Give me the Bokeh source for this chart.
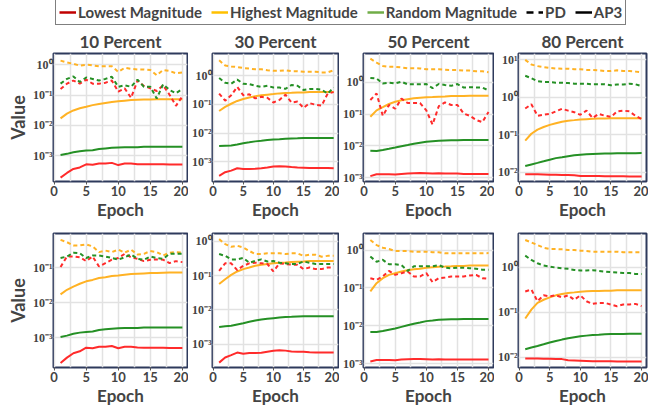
from bokeh.plotting import figure
from bokeh.layouts import column, row
from bokeh.models import (Range1d, FixedTicker, SingleIntervalTicker, CustomJSTickFormatter,
                          Legend, LegendItem)
from bokeh.embed import file_html
from bokeh.resources import INLINE

EPOCHS = list(range(1, 21))
TITLES = ["10 Percent", "30 Percent", "50 Percent", "80 Percent"]
SERIES = ["Lowest Magnitude", "Highest Magnitude", "Random Magnitude"]
METHODS = ["PD", "AP3"]

# ---------------- Row 1 ----------------
R1_10_LOW_PD = [0.158, 0.237, 0.30, 0.237, 0.32, 0.237, 0.237, 0.255, 0.30, 0.13, 0.166, 0.081, 0.30, 0.20, 0.166, 0.136, 0.21, 0.102, 0.044, 0.091]
R1_10_HIGH_PD = [1.36, 1.18, 1.07, 0.93, 1.0, 0.95, 0.89, 0.89, 0.89, 0.58, 0.79, 0.73, 0.70, 0.70, 0.67, 0.45, 0.67, 0.62, 0.52, 0.55]
R1_10_RAND_PD = [0.237, 0.34, 0.41, 0.27, 0.38, 0.34, 0.30, 0.34, 0.40, 0.187, 0.21, 0.187, 0.32, 0.187, 0.187, 0.077, 0.226, 0.147, 0.115, 0.158]
R1_10_LOW_AP3 = [0.00019, 0.00027, 0.000365, 0.00041, 0.00052, 0.0005, 0.00055, 0.00055, 0.00058, 0.00049, 0.00055, 0.00055, 0.00052, 0.00052, 0.00052, 0.00052, 0.00052, 0.00051, 0.00051, 0.00051]
R1_10_HIGH_AP3 = [0.017, 0.0243, 0.031, 0.0365, 0.041, 0.0465, 0.051, 0.055, 0.059, 0.062, 0.065, 0.068, 0.070, 0.0715, 0.0715, 0.073, 0.073, 0.073, 0.073, 0.073]
R1_10_RAND_AP3 = [0.00105, 0.00115, 0.0013, 0.0014, 0.00147, 0.0015, 0.00166, 0.00174, 0.00182, 0.00187, 0.0019, 0.0019, 0.0019, 0.00196, 0.00196, 0.00196, 0.00196, 0.00196, 0.00196, 0.00196]

R1_30_LOW_PD = [0.24, 0.136, 0.21, 0.41, 0.21, 0.226, 0.163, 0.185, 0.171, 0.117, 0.144, 0.22, 0.117, 0.126, 0.076, 0.111, 0.098, 0.091, 0.24, 0.27]
R1_30_HIGH_PD = [3.5, 2.3, 2.13, 2.03, 1.88, 1.79, 1.70, 1.70, 1.57, 1.50, 1.50, 1.57, 1.46, 1.46, 1.39, 1.39, 1.39, 1.32, 1.32, 1.57]
R1_30_RAND_PD = [0.84, 0.57, 0.53, 0.74, 0.53, 0.51, 0.45, 0.41, 0.45, 0.39, 0.39, 0.35, 0.48, 0.45, 0.32, 0.35, 0.35, 0.33, 0.24, 0.39]
R1_30_LOW_AP3 = [0.00032, 0.00043, 0.00049, 0.00059, 0.00056, 0.00056, 0.00057, 0.00059, 0.00063, 0.00068, 0.0007, 0.00068, 0.00065, 0.00063, 0.00062, 0.0006, 0.0006, 0.0006, 0.0006, 0.00059]
R1_30_HIGH_AP3 = [0.059, 0.082, 0.106, 0.133, 0.155, 0.175, 0.194, 0.21, 0.22, 0.23, 0.244, 0.25, 0.256, 0.263, 0.263, 0.27, 0.27, 0.27, 0.27, 0.27]
R1_30_RAND_AP3 = [0.00352, 0.00361, 0.0037, 0.004, 0.00442, 0.00476, 0.00514, 0.0054, 0.0057, 0.006, 0.0061, 0.0063, 0.00645, 0.0066, 0.0068, 0.0068, 0.0068, 0.0068, 0.0068, 0.0068]

R1_50_LOW_PD = [0.28, 0.45, 0.089, 0.195, 0.148, 0.31, 0.224, 0.224, 0.224, 0.132, 0.047, 0.178, 0.234, 0.195, 0.195, 0.105, 0.089, 0.066, 0.056, 0.117]
R1_50_HIGH_PD = [5.6, 4.2, 3.3, 3.1, 3.1, 2.95, 2.8, 2.8, 2.75, 2.6, 2.6, 2.6, 2.5, 2.45, 2.45, 2.35, 2.35, 2.25, 2.25, 2.1]
R1_50_RAND_PD = [1.38, 1.32, 0.93, 0.98, 0.93, 1.05, 0.87, 0.87, 0.87, 0.89, 0.66, 0.89, 0.83, 0.78, 0.89, 0.69, 0.71, 0.69, 0.69, 0.56]
R1_50_LOW_AP3 = [0.00112, 0.00129, 0.00129, 0.00129, 0.00126, 0.00132, 0.00135, 0.00138, 0.00141, 0.00138, 0.00135, 0.00138, 0.00135, 0.00135, 0.00135, 0.00132, 0.00132, 0.00132, 0.00132, 0.00132]
R1_50_HIGH_AP3 = [0.083, 0.132, 0.166, 0.209, 0.245, 0.275, 0.295, 0.316, 0.33, 0.34, 0.347, 0.355, 0.363, 0.372, 0.372, 0.372, 0.38, 0.38, 0.38, 0.38]
R1_50_RAND_AP3 = [0.0071, 0.0069, 0.0074, 0.0081, 0.0089, 0.0098, 0.0107, 0.0117, 0.0126, 0.0135, 0.0141, 0.0145, 0.0148, 0.0151, 0.0151, 0.0155, 0.0155, 0.0155, 0.0155, 0.0155]

R1_80_LOW_PD = [0.50, 0.65, 0.32, 0.34, 0.36, 0.42, 0.49, 0.44, 0.40, 0.34, 0.44, 0.28, 0.36, 0.32, 0.30, 0.42, 0.44, 0.42, 0.32, 0.26]
R1_80_HIGH_PD = [10.0, 7.5, 6.8, 6.4, 6.1, 5.9, 5.8, 5.8, 5.6, 5.6, 5.4, 5.4, 5.25, 5.05, 5.05, 5.25, 5.05, 5.05, 4.85, 4.65]
R1_80_RAND_PD = [3.77, 3.22, 2.70, 2.55, 2.55, 2.45, 2.45, 2.40, 2.31, 2.31, 2.31, 2.22, 2.22, 2.22, 2.10, 2.18, 2.18, 2.31, 2.22, 1.98]
R1_80_LOW_AP3 = [0.0087, 0.0087, 0.0087, 0.0086, 0.0085, 0.0085, 0.0084, 0.0083, 0.0082, 0.0079, 0.0078, 0.0078, 0.0078, 0.0077, 0.0077, 0.0077, 0.0077, 0.0076, 0.0076, 0.0076]
R1_80_HIGH_AP3 = [0.069, 0.106, 0.137, 0.16, 0.183, 0.202, 0.222, 0.236, 0.245, 0.255, 0.26, 0.265, 0.27, 0.27, 0.276, 0.276, 0.276, 0.276, 0.276, 0.276]
R1_80_RAND_AP3 = [0.0145, 0.016, 0.0176, 0.0194, 0.0214, 0.0236, 0.025, 0.0265, 0.0281, 0.0292, 0.0298, 0.0304, 0.031, 0.0316, 0.0316, 0.032, 0.032, 0.032, 0.032, 0.0323]

# ---------------- Row 2 ----------------
R2_10_LOW_PD = [0.105, 0.21, 0.21, 0.20, 0.155, 0.21, 0.109, 0.136, 0.17, 0.19, 0.25, 0.20, 0.18, 0.155, 0.17, 0.173, 0.17, 0.136, 0.155, 0.145]
R2_10_HIGH_PD = [0.63, 0.54, 0.435, 0.435, 0.465, 0.41, 0.28, 0.31, 0.28, 0.33, 0.27, 0.33, 0.24, 0.25, 0.30, 0.28, 0.225, 0.27, 0.28, 0.27]
R2_10_RAND_PD = [0.19, 0.21, 0.27, 0.26, 0.19, 0.225, 0.225, 0.21, 0.19, 0.17, 0.20, 0.24, 0.18, 0.17, 0.21, 0.19, 0.18, 0.25, 0.25, 0.25]
R2_10_LOW_AP3 = [0.00019, 0.00027, 0.00036, 0.00041, 0.00052, 0.0005, 0.00055, 0.00055, 0.00058, 0.0005, 0.00055, 0.00055, 0.00053, 0.00052, 0.00052, 0.00052, 0.00052, 0.00051, 0.00051, 0.00051]
R2_10_HIGH_AP3 = [0.0174, 0.0235, 0.029, 0.035, 0.041, 0.045, 0.051, 0.054, 0.058, 0.060, 0.063, 0.066, 0.0675, 0.069, 0.0705, 0.071, 0.072, 0.073, 0.073, 0.0735]
R2_10_RAND_AP3 = [0.00105, 0.00115, 0.0013, 0.0014, 0.00147, 0.0015, 0.00166, 0.00174, 0.00182, 0.00187, 0.0019, 0.0019, 0.0019, 0.00196, 0.00196, 0.00196, 0.00196, 0.00196, 0.00196, 0.00196]

R2_30_LOW_PD = [0.139, 0.23, 0.23, 0.146, 0.195, 0.23, 0.24, 0.23, 0.22, 0.133, 0.23, 0.22, 0.21, 0.21, 0.156, 0.174, 0.156, 0.156, 0.174, 0.174]
R2_30_HIGH_PD = [1.17, 0.84, 0.70, 0.75, 0.67, 0.53, 0.43, 0.43, 0.45, 0.45, 0.45, 0.43, 0.45, 0.45, 0.38, 0.41, 0.41, 0.36, 0.38, 0.38]
R2_30_RAND_PD = [0.43, 0.38, 0.30, 0.30, 0.33, 0.24, 0.27, 0.30, 0.26, 0.27, 0.24, 0.23, 0.22, 0.22, 0.26, 0.24, 0.22, 0.22, 0.22, 0.22]
R2_30_LOW_AP3 = [0.00029, 0.00041, 0.00048, 0.00057, 0.00053, 0.00055, 0.00055, 0.00056, 0.0006, 0.00064, 0.00067, 0.00065, 0.00061, 0.0006, 0.0006, 0.00058, 0.00057, 0.00057, 0.00057, 0.00057]
R2_30_HIGH_AP3 = [0.057, 0.079, 0.106, 0.133, 0.156, 0.174, 0.195, 0.21, 0.22, 0.23, 0.24, 0.244, 0.25, 0.255, 0.26, 0.267, 0.267, 0.27, 0.27, 0.27]
R2_30_RAND_AP3 = [0.0032, 0.00336, 0.00344, 0.00377, 0.0041, 0.0045, 0.0049, 0.00526, 0.0055, 0.00575, 0.006, 0.0062, 0.0063, 0.00645, 0.0066, 0.0066, 0.0066, 0.0066, 0.0066, 0.0066]

R2_50_LOW_PD = [0.18, 0.163, 0.20, 0.28, 0.22, 0.244, 0.27, 0.20, 0.20, 0.244, 0.142, 0.18, 0.188, 0.20, 0.20, 0.20, 0.212, 0.22, 0.18, 0.173]
R2_50_HIGH_PD = [1.83, 1.35, 1.15, 1.06, 0.94, 0.94, 0.94, 0.90, 0.90, 0.90, 0.87, 0.87, 0.82, 0.82, 0.82, 0.82, 0.82, 0.82, 0.82, 0.83]
R2_50_RAND_PD = [0.67, 0.49, 0.55, 0.42, 0.42, 0.40, 0.28, 0.37, 0.37, 0.37, 0.37, 0.40, 0.34, 0.33, 0.34, 0.34, 0.33, 0.32, 0.30, 0.30]
R2_50_LOW_AP3 = [0.00113, 0.00124, 0.00124, 0.00124, 0.00122, 0.00127, 0.0013, 0.00132, 0.00132, 0.0013, 0.00127, 0.0013, 0.00127, 0.00127, 0.00127, 0.00127, 0.00127, 0.00127, 0.00127, 0.00127]
R2_50_HIGH_AP3 = [0.081, 0.133, 0.18, 0.22, 0.244, 0.27, 0.29, 0.31, 0.32, 0.34, 0.35, 0.36, 0.365, 0.372, 0.38, 0.38, 0.39, 0.39, 0.39, 0.39]
R2_50_RAND_AP3 = [0.0068, 0.0068, 0.0072, 0.0078, 0.0084, 0.0093, 0.0103, 0.0112, 0.0121, 0.0132, 0.0137, 0.0143, 0.0146, 0.0148, 0.0148, 0.0151, 0.0151, 0.0151, 0.0151, 0.0151]

R2_80_LOW_PD = [0.29, 0.32, 0.176, 0.238, 0.226, 0.238, 0.215, 0.238, 0.19, 0.238, 0.176, 0.154, 0.162, 0.162, 0.149, 0.137, 0.149, 0.149, 0.154, 0.137]
R2_80_HIGH_PD = [4.0, 3.54, 3.1, 2.7, 2.53, 2.53, 2.49, 2.40, 2.40, 2.32, 2.29, 2.21, 2.21, 2.21, 2.21, 2.21, 2.14, 2.14, 2.14, 2.14]
R2_80_RAND_PD = [1.80, 1.45, 1.22, 1.09, 1.035, 0.98, 0.95, 0.92, 0.87, 0.845, 0.845, 0.86, 0.83, 0.80, 0.78, 0.76, 0.74, 0.74, 0.71, 0.71]
R2_80_LOW_AP3 = [0.0095, 0.0095, 0.0095, 0.0094, 0.0094, 0.0093, 0.0092, 0.0087, 0.0086, 0.0085, 0.0084, 0.0083, 0.0083, 0.0083, 0.0083, 0.0082, 0.0082, 0.0082, 0.0082, 0.0082]
R2_80_HIGH_AP3 = [0.073, 0.115, 0.162, 0.19, 0.215, 0.238, 0.255, 0.268, 0.277, 0.287, 0.292, 0.297, 0.297, 0.30, 0.30, 0.307, 0.307, 0.307, 0.307, 0.307]
R2_80_RAND_AP3 = [0.0152, 0.0166, 0.018, 0.0196, 0.0214, 0.0232, 0.0249, 0.0266, 0.028, 0.0294, 0.0305, 0.0315, 0.032, 0.0326, 0.0331, 0.0331, 0.0331, 0.0336, 0.0336, 0.0336]

# axis limits (log) per panel
R1_Y_LIMITS = [(1.41e-4, 2.34), (2.04e-4, 6.03), (7.6e-4, 8.13), (5.6e-3, 14.8)]
R2_Y_LIMITS = [(1.41e-4, 0.955), (2.09e-4, 1.71), (7.85e-4, 2.73), (6.0e-3, 5.58)]
R1_Y_TICKS = [[1e-3, 1e-2, 1e-1, 1], [1e-3, 1e-2, 1e-1, 1], [1e-3, 1e-2, 1e-1, 1], [1e-2, 1e-1, 1, 10]]
R2_Y_TICKS = [[1e-3, 1e-2, 1e-1], [1e-3, 1e-2, 1e-1, 1], [1e-3, 1e-2, 1e-1, 1], [1e-2, 1e-1, 1]]
X_TICKS = [0, 5, 10, 15, 20]

ROW1 = [
    [(R1_10_LOW_PD, R1_10_HIGH_PD, R1_10_RAND_PD), (R1_10_LOW_AP3, R1_10_HIGH_AP3, R1_10_RAND_AP3)],
    [(R1_30_LOW_PD, R1_30_HIGH_PD, R1_30_RAND_PD), (R1_30_LOW_AP3, R1_30_HIGH_AP3, R1_30_RAND_AP3)],
    [(R1_50_LOW_PD, R1_50_HIGH_PD, R1_50_RAND_PD), (R1_50_LOW_AP3, R1_50_HIGH_AP3, R1_50_RAND_AP3)],
    [(R1_80_LOW_PD, R1_80_HIGH_PD, R1_80_RAND_PD), (R1_80_LOW_AP3, R1_80_HIGH_AP3, R1_80_RAND_AP3)],
]
ROW2 = [
    [(R2_10_LOW_PD, R2_10_HIGH_PD, R2_10_RAND_PD), (R2_10_LOW_AP3, R2_10_HIGH_AP3, R2_10_RAND_AP3)],
    [(R2_30_LOW_PD, R2_30_HIGH_PD, R2_30_RAND_PD), (R2_30_LOW_AP3, R2_30_HIGH_AP3, R2_30_RAND_AP3)],
    [(R2_50_LOW_PD, R2_50_HIGH_PD, R2_50_RAND_PD), (R2_50_LOW_AP3, R2_50_HIGH_AP3, R2_50_RAND_AP3)],
    [(R2_80_LOW_PD, R2_80_HIGH_PD, R2_80_RAND_PD), (R2_80_LOW_AP3, R2_80_HIGH_AP3, R2_80_RAND_AP3)],
]

# ---------------- styling ----------------
LINE_COLORS = ["#FF2B2B", "#FFB224", "#259025"]
LEGEND_COLORS = ["#C00000", "#FFC000", "#70AD47"]
FRAME_COLOR = "#2E3A5C"
GRID_COLOR = "#E2E2E2"
SANS = "Lato"
SERIF = "Liberation Serif"

COL_W = [188, 151, 155, 154]
COL_LEFT = [53, 20, 20, 20]
COL_RIGHT = [1, 1, 1, 2]

SUP_JS = """
const sup = {"-": "\u207b", "0": "\u2070", "1": "\u00b9", "2": "\u00b2", "3": "\u00b3",
             "4": "\u2074", "5": "\u2075", "6": "\u2076", "7": "\u2077", "8": "\u2078", "9": "\u2079"};
const e = Math.round(Math.log10(tick));
return "10" + String(e).split("").map(c => sup[c]).join("");
"""


def make_panel(ci, data, ylim, yticks, title, height, top, bottom):
    p = figure(width=COL_W[ci], height=height, y_axis_type="log",
               x_range=Range1d(-0.1, 20.8), y_range=Range1d(ylim[0], ylim[1]),
               output_backend="svg", toolbar_location=None,
               min_border_left=COL_LEFT[ci], min_border_right=COL_RIGHT[ci],
               min_border_top=top, min_border_bottom=bottom)
    if title:
        p.title.text = title
        p.title.align = "center"
        p.title.text_font = SANS
        p.title.text_font_size = "17px"
        p.title.text_font_style = "bold"
        p.title.standoff = 4
        p.title.offset = 0
    p.outline_line_color = FRAME_COLOR
    p.outline_line_width = 2
    p.background_fill_color = "white"
    p.border_fill_color = "white"

    p.xaxis.ticker = FixedTicker(ticks=X_TICKS)
    p.xgrid.ticker = SingleIntervalTicker(interval=2.5)
    p.xgrid.grid_line_color = GRID_COLOR
    p.xgrid.grid_line_width = 1.5
    p.ygrid.ticker = FixedTicker(ticks=yticks)
    p.ygrid.grid_line_color = GRID_COLOR
    p.ygrid.grid_line_width = 1.5

    p.xaxis.axis_label = "Epoch"
    p.xaxis.axis_label_text_font = SANS
    p.xaxis.axis_label_text_font_size = "17px"
    p.xaxis.axis_label_text_font_style = "bold"
    p.xaxis.axis_label_standoff = 0
    p.xaxis.major_label_text_font = SANS
    p.xaxis.major_label_text_font_size = "13px"
    p.xaxis.major_label_text_font_style = "bold"
    p.xaxis.major_label_standoff = 1
    p.xaxis.axis_line_color = None
    p.xaxis.major_tick_line_color = "#555555"
    p.xaxis.major_tick_out = 3
    p.xaxis.major_tick_in = 0
    p.xaxis.minor_tick_line_color = None

    p.yaxis.ticker = FixedTicker(ticks=yticks)
    p.yaxis.formatter = CustomJSTickFormatter(code=SUP_JS)
    p.yaxis.major_label_text_font = SERIF
    p.yaxis.major_label_text_font_size = "12px"
    p.yaxis.major_label_text_font_style = "bold"
    p.yaxis.major_label_standoff = 1
    p.yaxis.axis_line_color = None
    p.yaxis.major_tick_line_color = None
    p.yaxis.major_tick_out = 0
    p.yaxis.major_tick_in = 0
    p.yaxis.minor_tick_line_color = None
    if ci == 0:
        p.yaxis.axis_label = "Value"
        p.yaxis.axis_label_text_font = SANS
        p.yaxis.axis_label_text_font_size = "18px"
        p.yaxis.axis_label_text_font_style = "bold"
        p.yaxis.axis_label_standoff = 1

    pd_vals, ap3_vals = data
    for k in range(3):
        p.line(EPOCHS, ap3_vals[k], line_color=LINE_COLORS[k], line_width=2)
    for k in range(3):
        p.line(EPOCHS, pd_vals[k], line_color=LINE_COLORS[k], line_width=2, line_dash="4 3")
    return p


row1 = [make_panel(i, ROW1[i], R1_Y_LIMITS[i], R1_Y_TICKS[i], TITLES[i], 196, 24, 36) for i in range(4)]
row2 = [make_panel(i, ROW2[i], R2_Y_LIMITS[i], R2_Y_TICKS[i], None, 191, 11, 46) for i in range(4)]

# legend strip (dummy renderers sit outside the visible range; only their legend glyphs show)
leg = figure(width=648, height=26, x_range=Range1d(0, 1), y_range=Range1d(0, 1),
             output_backend="svg", toolbar_location=None,
             min_border_left=0, min_border_right=0, min_border_top=0, min_border_bottom=0)
leg.axis.visible = False
leg.grid.visible = False
leg.outline_line_color = None
HIDDEN_X = [-5, -4]
HIDDEN_Y = [-5, -4]
items = []
for k, name in enumerate(SERIES):
    r = leg.line(HIDDEN_X, HIDDEN_Y, line_color=LEGEND_COLORS[k], line_width=2.5)
    items.append(LegendItem(label=name, renderers=[r]))
r_pd = leg.line(HIDDEN_X, HIDDEN_Y, line_color="black", line_width=2.5, line_dash="7 5")
items.append(LegendItem(label=METHODS[0], renderers=[r_pd]))
r_ap = leg.line(HIDDEN_X, HIDDEN_Y, line_color="black", line_width=2.5)
items.append(LegendItem(label=METHODS[1], renderers=[r_ap]))
legend = Legend(items=items, orientation="horizontal", location=(55, 1),
                border_line_color="black", border_line_width=1.5,
                label_text_font=SANS, label_text_font_size="15px", label_text_font_style="bold",
                glyph_width=17, glyph_height=14, label_standoff=2, spacing=9,
                padding=3, margin=0, label_height=16)
leg.add_layout(legend, "center")

layout = column(leg, row(*row1), row(*row2), spacing=0)

html = file_html(layout, INLINE)
open("out.html", "w").write(html)
